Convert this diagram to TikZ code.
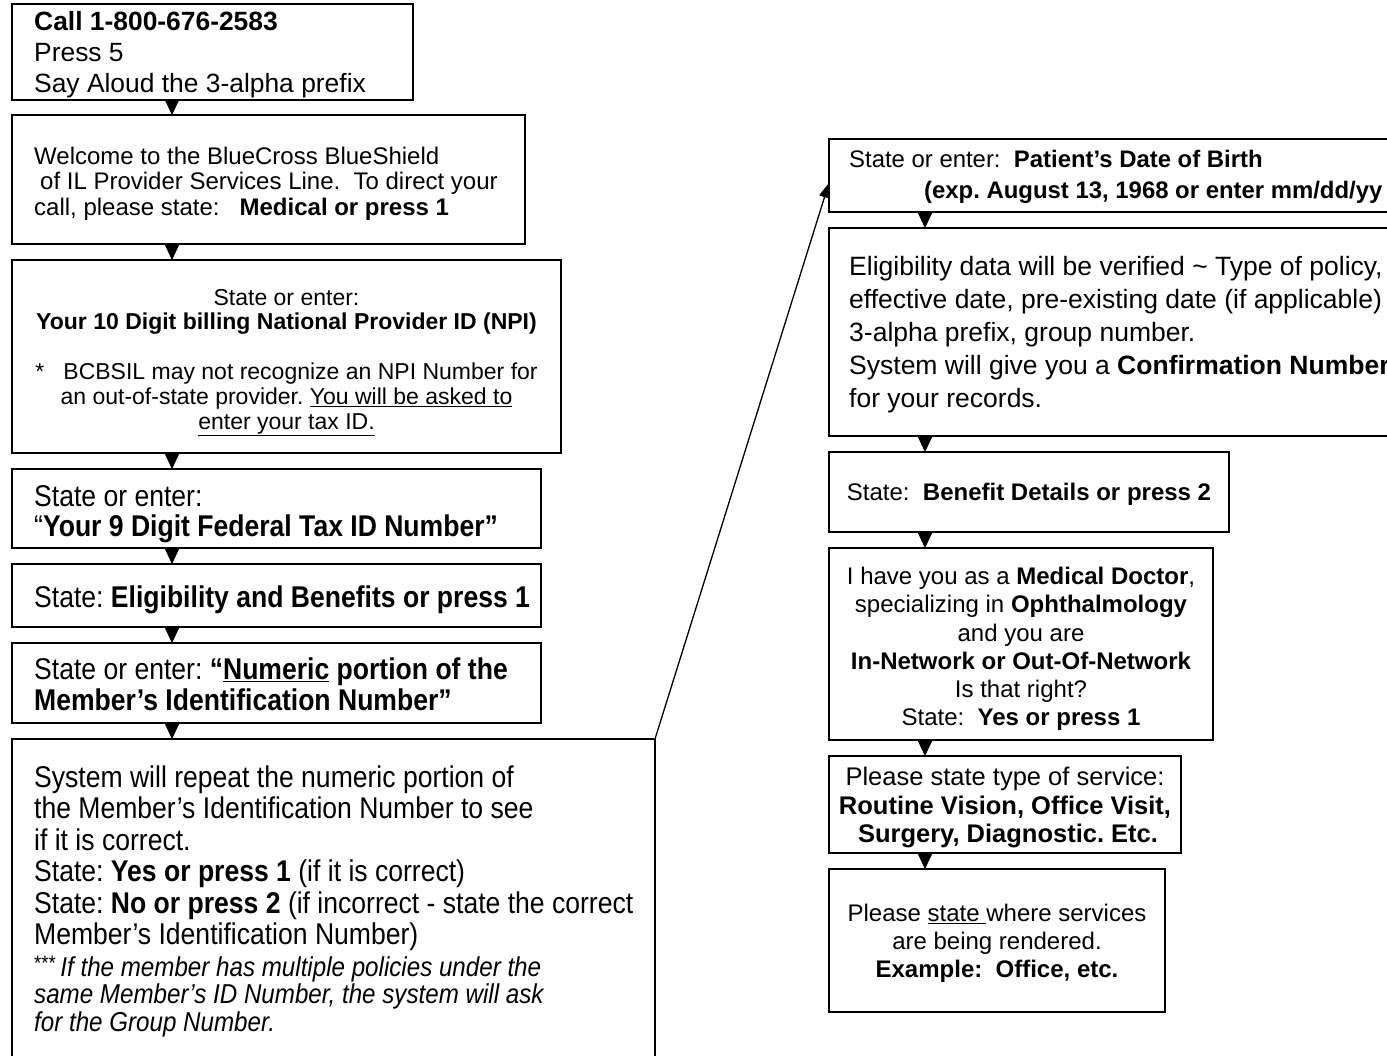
\documentclass[tikz,border=0pt]{standalone}
\usepackage{fontspec}
\setmainfont{Liberation Sans}
\newfontfamily\narrowfont[FakeStretch=0.885]{Liberation Sans}
\usetikzlibrary{arrows.meta,calc}
\begin{document}
\frenchspacing
\begin{tikzpicture}[x=1pt,y=-1pt,
  box/.style={draw,line width=1.5pt,anchor=north west,inner sep=0pt,outer sep=0pt},
  ltxt/.style={inner sep=0pt,anchor=west,align=left},
  ctxt/.style={inner sep=0pt,anchor=center,align=center},
  flow/.style={line width=0.8pt,-{Triangle[width=14pt,length=15pt]}},
  jump/.style={line width=1.3pt,-{Triangle[width=11pt,length=15pt]}}]
\useasboundingbox[fill=white] (0,0) rectangle (1387,1056);

% ---------- boxes, left column
\node[box,minimum width=401pt,minimum height=96pt] (b1) at (12,4) {};
\node[box,minimum width=513pt,minimum height=129pt] (b2) at (12,115) {};
\node[box,minimum width=549pt,minimum height=193pt] (b3) at (12,260) {};
\node[box,minimum width=529pt,minimum height=79pt] (b4) at (12,469) {};
\node[box,minimum width=529pt,minimum height=63pt] (b5) at (12,564) {};
\node[box,minimum width=529pt,minimum height=80pt] (b6) at (12,643) {};
\node[box,minimum width=643pt,minimum height=342pt] (b7) at (12,739) {};
% ---------- boxes, right column
\node[box,minimum width=580pt,minimum height=73pt] (b8) at (829,139) {};
\node[box,minimum width=580pt,minimum height=208pt] (b9) at (829,228) {};
\node[box,minimum width=400pt,minimum height=80pt] (b10) at (829,452) {};
\node[box,minimum width=384pt,minimum height=192pt] (b11) at (829,548) {};
\node[box,minimum width=352pt,minimum height=97pt] (b12) at (829,756) {};
\node[box,minimum width=336pt,minimum height=143pt] (b13) at (829,869) {};

% ---------- texts, left column
\node[ltxt,font=\fontsize{26.4}{31}\selectfont] (t1) at ($(b1.west)+(22,3)$)
  {\textbf{Call 1-800-676-2583}\\Press 5\\Say Aloud the 3-alpha prefix};
\node[ltxt,font=\fontsize{24}{25.5}\selectfont] (t2) at ($(b2.west)+(22,4)$)
  {Welcome to the BlueCross BlueShield\\\hspace*{6pt}of IL Provider Services Line.\ \ To direct your\\call, please state:\ \ \ \textbf{Medical or press 1}};
\node[ctxt,font=\fontsize{23}{24.8}\selectfont] (t3) at ($(b3.center)+(0,6)$)
  {State or enter:\\\textbf{Your 10 Digit billing National Provider ID (NPI)}\\[24.8pt]
   *\ \ \ BCBSIL may not recognize an NPI Number for\\an out-of-state provider. \underline{You will be asked to}\\\underline{enter your tax ID.}};
\node[ltxt,font=\narrowfont\fontsize{30}{30}\selectfont] (t4) at ($(b4.west)+(22,6)$)
  {State or enter:\\“\textbf{Your 9 Digit Federal Tax ID Number”}};
\node[ltxt,font=\narrowfont\fontsize{30}{30}\selectfont] (t5) at ($(b5.west)+(22,4)$)
  {State: \textbf{Eligibility and Benefits or press 1}};
\node[ltxt,font=\narrowfont\fontsize{30}{31}\selectfont] (t6) at ($(b6.west)+(22,1)$)
  {State or enter: \textbf{“\underline{Numeric} portion of the}\\\textbf{Member’s Identification Number”}};
\node[ltxt,font=\narrowfont\fontsize{30}{31.5}\selectfont] (t7) at ($(b7.west)+(22,-9)$)
  {System will repeat the numeric portion of\\
   the Member’s Identification Number to see\\
   if it is correct.\\
   State: \textbf{Yes or press 1} (if it is correct)\\
   State: \textbf{No or press 2} (if incorrect - state the correct\\
   Member’s Identification Number)\\
   {\fontsize{27.3}{27}\selectfont\raisebox{6pt}{\fontsize{21}{21}\selectfont ***}\,\textit{If the member has multiple policies under the}}\\[-4pt]
   {\fontsize{27.3}{27}\selectfont\textit{same Member’s ID Number, the system will ask}}\\[-4pt]
   {\fontsize{27.3}{27}\selectfont\textit{for the Group Number.}}};

% ---------- texts, right column
\node[ltxt,font=\fontsize{23.9}{31}\selectfont] (t8) at ($(b8.west)+(20,1)$)
  {State or enter:\ \ \textbf{Patient’s Date of Birth}\\\hspace*{75pt}\textbf{(exp. August 13, 1968 or enter mm/dd/yy}};
\node[ltxt,font=\fontsize{26.5}{33}\selectfont] (t9) at ($(b9.west)+(20,3)$)
  {Eligibility data will be verified \textasciitilde{} Type of policy,\\
   effective date, pre-existing date (if applicable)\\
   3-alpha prefix, group number.\\
   System will give you a \textbf{Confirmation Number}\\
   for your records.};
\node[ctxt,font=\fontsize{24}{28}\selectfont] (t10) at ($(b10.center)+(0,2)$)
  {State:\ \ \textbf{Benefit Details or press 2}};
\node[ctxt,font=\fontsize{24}{28.2}\selectfont] (t11) at ($(b11.center)+(0,5)$)
  {I have you as a \textbf{Medical Doctor},\\specializing in \textbf{Ophthalmology}\\and you are\\
   \textbf{In-Network or Out-Of-Network}\\Is that right?\\State:\ \ \textbf{Yes or press 1}};
\node[ctxt,font=\fontsize{25.5}{28.5}\selectfont] (t12) at ($(b12.center)+(0,3)$)
  {Please state type of service:\\\textbf{Routine Vision, Office Visit,}\\\textbf{\hspace*{6pt}Surgery, Diagnostic. Etc.}};
\node[ctxt,font=\fontsize{24}{28}\selectfont] (t13) at ($(b13.center)+(0,3)$)
  {Please \underline{state }where services\\are being rendered.\\\textbf{Example:\ \ Office, etc.}};

% ---------- connectors
\coordinate (lc) at (172,0);
\coordinate (rc) at (925,0);
\foreach \a/\b in {b1/b2,b2/b3,b3/b4,b4/b5,b5/b6,b6/b7}
  \draw[flow] (\a.south -| lc) -- (\b.north -| lc);
\foreach \a/\b in {b8/b9,b9/b10,b10/b11,b11/b12,b12/b13}
  \draw[flow] (\a.south -| rc) -- (\b.north -| rc);
\draw[jump] (b7.north east) -- ($(b8.north west)!0.6!(b8.south west)$);
\end{tikzpicture}
\end{document}
